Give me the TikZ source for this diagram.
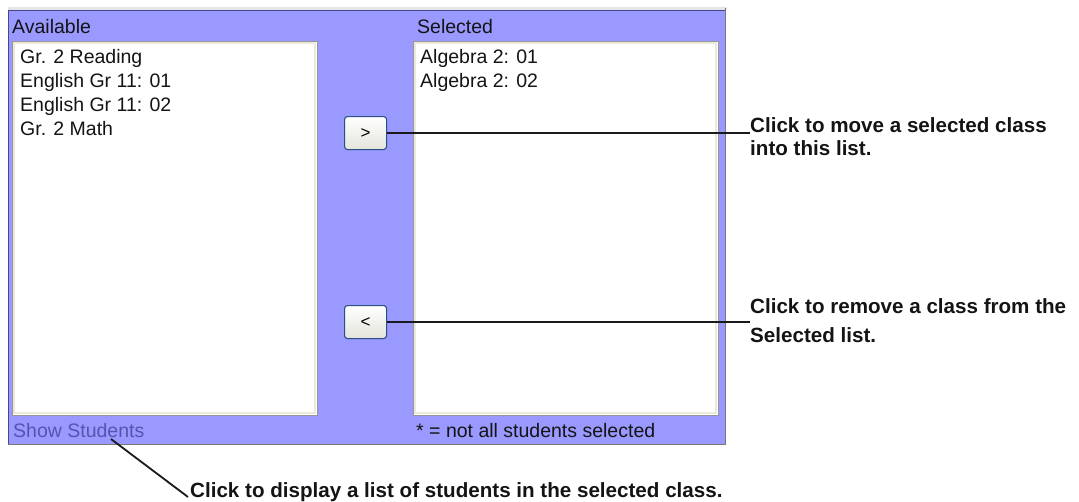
\documentclass[tikz,border=0pt]{standalone}
\usepackage{fontspec}
\setmainfont{Liberation Sans}
\definecolor{panelblue}{RGB}{153,153,255}
\definecolor{paneldark}{RGB}{70,70,140}
\definecolor{panelgray}{RGB}{120,120,120}
\definecolor{boxgray}{RGB}{150,150,150}
\definecolor{boxinner}{RGB}{236,233,216}
\definecolor{btnborder}{RGB}{40,80,130}
\definecolor{btntop}{RGB}{255,255,255}
\definecolor{btnbot}{RGB}{228,228,220}
\definecolor{linkblue}{RGB}{85,85,175}
\definecolor{calline}{RGB}{25,25,25}
\definecolor{textdark}{RGB}{20,20,20}
\tikzset{
  uitext/.style={font=\fontsize{19.5}{22}\selectfont, text=textdark, inner sep=0pt, anchor=base west},
  calltext/.style={font=\fontsize{20.6}{23}\selectfont\bfseries, text=textdark, inner sep=0pt, anchor=base west},
  listbox/.style={draw=boxgray, fill=white, line width=1pt},
  btn/.style={draw=btnborder, line width=1.1pt, rounded corners=3pt, top color=btntop, bottom color=btnbot,
    minimum width=42pt, minimum height=33pt, inner sep=0pt, font=\fontsize{17}{19}\selectfont},
  callout/.style={draw=calline, line width=2pt}
}
\begin{document}
\begin{tikzpicture}[x=1pt,y=-1pt]
\useasboundingbox (0,0) rectangle (1079,501);
\fill[white] (0,0) rectangle (1079,501);
% panel
\fill[black!10] (8,7) rectangle (727,10);
\node[fill=panelblue, minimum width=718pt, minimum height=435pt, inner sep=0pt, anchor=north west] (panel) at (8,10) {};
\draw[paneldark, line width=1.2pt] (8.6,445) -- (8.6,10.6) -- (726,10.6);
\draw[panelgray, line width=1.5pt] (8,444.3) -- (725.3,444.3) -- (725.3,8);
% labels
\node[uitext] (availlbl) at (12,33) {Available};
\node[uitext] (sellbl) at (417,33) {Selected};
% list boxes
\node[listbox, minimum width=305pt, minimum height=374pt, inner sep=0pt, anchor=north west] (leftlist) at (12,41) {};
\draw[boxinner, line width=1.5pt] (14,43) rectangle (315,413);
\node[listbox, minimum width=305pt, minimum height=374pt, inner sep=0pt, anchor=north west] (rightlist) at (413,41) {};
\draw[boxinner, line width=1.5pt] (415,43) rectangle (716,413);
% items
\node[uitext] (i1) at (20,63) {Gr. 2 Reading};
\node[uitext] (i2) at (20,87) {English Gr 11: 01};
\node[uitext] (i3) at (20,111) {English Gr 11: 02};
\node[uitext] (i4) at (20,135) {Gr. 2 Math};
\node[uitext] (s1) at (420,63) {Algebra 2: 01};
\node[uitext] (s2) at (420,87) {Algebra 2: 02};
% bottom labels
\node[uitext, text=linkblue] (show) at (13,437) {Show Students};
\node[uitext] (note) at (416,437) {* = not all students selected};
% buttons
\node[btn, anchor=north west] (add) at (344,116) {>};
\node[btn, anchor=north west] (rem) at (344,305) {<};
% callouts
\node[calltext] (c1a) at (750,132) {Click to move a selected class};
\node[calltext] (c1b) at (750,155) {into this list.};
\node[calltext] (c2a) at (750,313) {Click to remove a class from the};
\node[calltext] (c2b) at (750,342) {Selected list.};
\node[calltext] (c3) at (190,497) {Click to display a list of students in the selected class.};
\coordinate (showpt) at (111,439);
\coordinate (c3pt) at (188,497);
\draw[callout] (add.east) -- (add.east -| c1a.west);
\draw[callout] (rem.east) -- (rem.east -| c2a.west);
\draw[callout, line width=1.8pt] (showpt) -- (c3pt);
\end{tikzpicture}
\end{document}
